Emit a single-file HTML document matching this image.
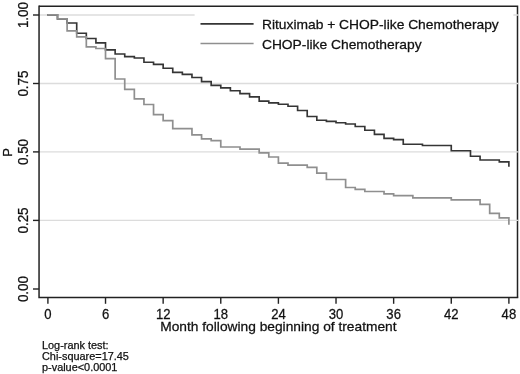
<!DOCTYPE html>
<html><head><meta charset="utf-8"><style>
html,body{margin:0;padding:0;background:#fff;width:520px;height:374px;overflow:hidden}
svg{display:block;will-change:transform;font-family:"Liberation Sans",sans-serif}
text{fill:#111;stroke:#111;stroke-width:0.25px}
</style></head><body>
<svg width="520" height="374" viewBox="0 0 520 374">
<rect x="0" y="0" width="520" height="374" fill="#fff"/>
<path d="M39.05,6.35H517.5V297.5" fill="none" stroke="#222" stroke-width="1.5"/>
<line x1="39.05" y1="15.0" x2="518.4" y2="15.0" stroke="#dcdcdc" stroke-width="1.4"/>
<line x1="39.05" y1="83.5" x2="518.4" y2="83.5" stroke="#dcdcdc" stroke-width="1.4"/>
<line x1="39.05" y1="151.9" x2="518.4" y2="151.9" stroke="#dcdcdc" stroke-width="1.4"/>
<line x1="39.05" y1="220.4" x2="518.4" y2="220.4" stroke="#dcdcdc" stroke-width="1.4"/>
<rect x="194.6" y="9" width="318.8" height="44" fill="#fff"/>
<path d="M47.2,14.90H57.50V18.85H67.11V23.00H76.71V33.20H86.32V38.50H95.92V42.80H105.52V49.80H115.13V54.00H124.73V56.60H134.34V58.00H143.94V62.20H153.54V64.30H163.15V68.20H172.75V72.40H182.36V74.30H191.96V77.50H201.56V81.60H211.17V85.40H220.77V87.80H230.38V90.70H239.98V93.60H249.58V96.80H259.19V101.10H268.79V102.80H278.40V104.20H288.00V106.20H297.60V110.50H307.21V116.50H316.81V120.20H326.42V121.30H336.02V122.70H345.62V124.00H355.23V126.50H364.83V130.20H374.44V134.40H384.04V138.40H393.64V139.60H403.25V144.20H422.46V145.50H451.27V150.70H470.48V156.20H480.08V160.00H499.29V161.80H508.89V166.80" fill="none" stroke="#353535" stroke-width="1.65" stroke-linejoin="miter"/>
<path d="M47.2,14.90H57.50V18.85H67.11V30.80H76.71V36.80H86.32V46.80H95.92V48.50H105.52V58.60H115.13V79.00H124.73V89.30H134.34V98.90H143.94V104.50H153.54V114.60H163.15V120.70H172.75V128.70H191.96V134.80H201.56V138.80H211.17V140.70H220.77V147.00H239.98V149.20H259.19V152.90H268.79V157.00H278.40V163.20H288.00V165.20H307.21V167.30H316.81V173.20H326.42V179.50H345.62V187.50H355.23V189.30H364.83V191.50H384.04V193.80H393.64V195.70H412.85V197.90H451.27V199.90H480.08V204.30H489.68V213.40H499.29V217.90H508.89V224.80" fill="none" stroke="#8f8f8f" stroke-width="1.7" stroke-linejoin="miter"/>
<path d="M39.05,5.6V297.5H518.25" fill="none" stroke="#222" stroke-width="1.5"/>
<line x1="33" y1="15.0" x2="39.05" y2="15.0" stroke="#222" stroke-width="1.4"/>
<text x="0" y="0" transform="translate(28.0,15.10) rotate(-90) scale(1,1.07)" text-anchor="middle" font-size="13.4">1.00</text>
<line x1="33" y1="83.5" x2="39.05" y2="83.5" stroke="#222" stroke-width="1.4"/>
<text x="0" y="0" transform="translate(28.0,83.60) rotate(-90) scale(1,1.07)" text-anchor="middle" font-size="13.4">0.75</text>
<line x1="33" y1="151.9" x2="39.05" y2="151.9" stroke="#222" stroke-width="1.4"/>
<text x="0" y="0" transform="translate(28.0,152.00) rotate(-90) scale(1,1.07)" text-anchor="middle" font-size="13.4">0.50</text>
<line x1="33" y1="220.4" x2="39.05" y2="220.4" stroke="#222" stroke-width="1.4"/>
<text x="0" y="0" transform="translate(28.0,220.50) rotate(-90) scale(1,1.07)" text-anchor="middle" font-size="13.4">0.25</text>
<line x1="33" y1="289.0" x2="39.05" y2="289.0" stroke="#222" stroke-width="1.4"/>
<text x="0" y="0" transform="translate(28.0,289.10) rotate(-90) scale(1,1.07)" text-anchor="middle" font-size="13.4">0.00</text>
<text x="0" y="0" transform="translate(12,152.4) rotate(-90)" text-anchor="middle" font-size="13">P</text>
<line x1="47.90" y1="297.5" x2="47.90" y2="303.8" stroke="#222" stroke-width="1.4"/>
<text x="0" y="0" transform="translate(47.90,318.5) scale(0.95,1)" text-anchor="middle" font-size="13.8">0</text>
<line x1="105.52" y1="297.5" x2="105.52" y2="303.8" stroke="#222" stroke-width="1.4"/>
<text x="0" y="0" transform="translate(105.52,318.5) scale(0.95,1)" text-anchor="middle" font-size="13.8">6</text>
<line x1="163.15" y1="297.5" x2="163.15" y2="303.8" stroke="#222" stroke-width="1.4"/>
<text x="0" y="0" transform="translate(163.15,318.5) scale(0.95,1)" text-anchor="middle" font-size="13.8">12</text>
<line x1="220.77" y1="297.5" x2="220.77" y2="303.8" stroke="#222" stroke-width="1.4"/>
<text x="0" y="0" transform="translate(220.77,318.5) scale(0.95,1)" text-anchor="middle" font-size="13.8">18</text>
<line x1="278.40" y1="297.5" x2="278.40" y2="303.8" stroke="#222" stroke-width="1.4"/>
<text x="0" y="0" transform="translate(278.40,318.5) scale(0.95,1)" text-anchor="middle" font-size="13.8">24</text>
<line x1="336.02" y1="297.5" x2="336.02" y2="303.8" stroke="#222" stroke-width="1.4"/>
<text x="0" y="0" transform="translate(336.02,318.5) scale(0.95,1)" text-anchor="middle" font-size="13.8">30</text>
<line x1="393.64" y1="297.5" x2="393.64" y2="303.8" stroke="#222" stroke-width="1.4"/>
<text x="0" y="0" transform="translate(393.64,318.5) scale(0.95,1)" text-anchor="middle" font-size="13.8">36</text>
<line x1="451.27" y1="297.5" x2="451.27" y2="303.8" stroke="#222" stroke-width="1.4"/>
<text x="0" y="0" transform="translate(451.27,318.5) scale(0.95,1)" text-anchor="middle" font-size="13.8">42</text>
<line x1="508.89" y1="297.5" x2="508.89" y2="303.8" stroke="#222" stroke-width="1.4"/>
<text x="0" y="0" transform="translate(508.89,318.5) scale(0.95,1)" text-anchor="middle" font-size="13.8">48</text>
<text x="0" y="0" transform="translate(278.4,331.3) scale(1.06,1)" text-anchor="middle" font-size="13">Month following beginning of treatment</text>
<line x1="200.5" y1="23.8" x2="253.6" y2="23.8" stroke="#353535" stroke-width="1.8"/>
<line x1="200.5" y1="43.5" x2="253.6" y2="43.5" stroke="#8f8f8f" stroke-width="1.6"/>
<text x="0" y="0" transform="translate(261.9,29.2) scale(1.064,1)" font-size="13">Rituximab + CHOP-like Chemotherapy</text>
<text x="0" y="0" transform="translate(261.9,48.6) scale(1.064,1)" font-size="13">CHOP-like Chemotherapy</text>
<text x="42" y="349.1" font-size="10.9">Log-rank test:</text>
<text x="42" y="360.2" font-size="10.9">Chi-square=17.45</text>
<text x="42" y="370.5" font-size="10.9">p-value&lt;0.0001</text>
</svg>
</body></html>
